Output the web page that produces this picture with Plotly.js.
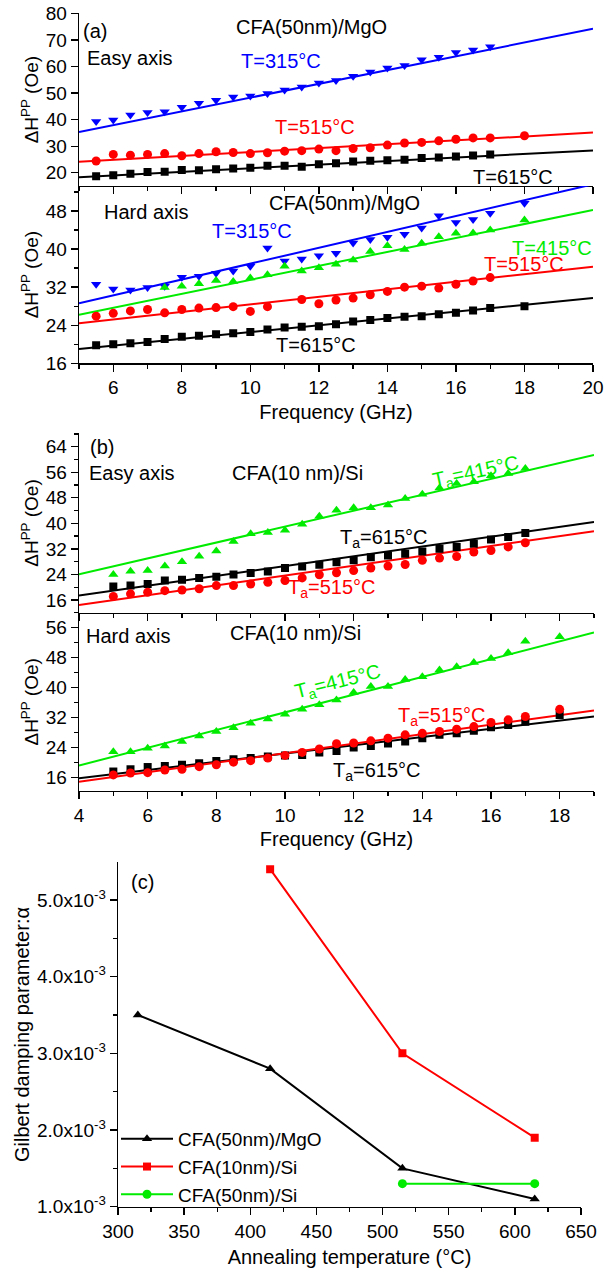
<!DOCTYPE html>
<html><head><meta charset="utf-8">
<script src="https://cdn.plot.ly/plotly-3.0.1.min.js"></script>
<style>body{margin:0;background:#fff}</style></head>
<body><div id="chart" style="width:608px;height:1268px"></div>
<script>
// ---------------- DATA ----------------
// Panel (a) CFA(50nm)/MgO, easy axis
const aEasyFreq315 = [5.5,6,6.5,7,7.5,8,8.5,9,9.5,10,10.5,11,11.5,12,12.5,13,13.5,14,14.5,15,15.5,16,16.5,17];
const aEasyDH315   = [39.3,39.8,41.7,42.7,42.9,44.6,46.1,47.3,48.5,48.9,49.8,51.1,52.3,53.8,54.7,56.3,57.9,59.4,60.4,62.5,63.5,65.2,66.2,67.4];
const aEasyFreq515 = [5.5,6,6.5,7,7.5,8,8.5,9,9.5,10,10.5,11,11.5,12,12.5,13,13.5,14,14.5,15,15.5,16,16.5,17,18];
const aEasyDH515   = [24.4,26.9,26.6,26.9,27.2,26.4,27.2,27.9,27.6,27.2,27.5,28.1,28.3,28.9,28.3,29.1,29.4,30.4,31.2,31.4,32.0,32.6,33.1,33.1,33.9];
const aEasyFreq615 = [5.5,6,6.5,7,7.5,8,8.5,9,9.5,10,10.5,11,11.5,12,12.5,13,13.5,14,14.5,15,15.5,16,16.5,17];
const aEasyDH615   = [18.7,19.0,19.6,20.3,20.4,21.0,20.9,21.3,21.6,21.9,22.6,22.6,22.2,23.2,23.6,24.2,24.5,24.7,24.9,25.5,25.7,26.1,26.5,26.9];
const aFitFreq     = [5, 20];
const aEasyFit315  = [35.3, 74.2];
const aEasyFit515  = [24.1, 35.1];
const aEasyFit615  = [18.3, 28.4];

// Panel (a) hard axis
const aHardFreq315 = [5.5,6,6.5,7,7.5,8,8.5,9,9.5,10,10.5,11,11.5,12,12.5,13,13.5,14,14.5,15,15.5,16,16.5,17,18];
const aHardDH315   = [32.6,31.6,31.4,31.9,32.2,34.1,34.3,34.9,35.4,36.4,40.2,37.5,37.9,38.6,39.1,41.3,42.0,42.5,43.1,44.4,47.0,45.6,46.2,47.5,49.6];
const aHardFreq415 = [7.5,8,8.5,9,9.5,10,10.5,11,11.5,12,12.5,13,13.5,14,14.5,15,15.5,16,16.5,17,18];
const aHardDH415   = [31.9,32.2,32.7,33.4,33.2,33.9,34.6,36.4,35.4,36.1,36.8,37.7,39.5,40.7,39.9,41.2,42.6,43.3,43.4,44.0,46.1];
const aHardFreq515 = [5.5,6,6.5,7,7.5,8,8.5,9,9.5,10,10.5,11.5,12,12.5,13,13.5,14,14.5,15,15.5,16,16.5,17];
const aHardDH515   = [25.9,26.5,27.0,27.3,26.6,27.3,27.6,27.7,27.9,26.9,27.9,29.4,28.5,29.3,29.7,30.4,31.1,32.0,32.2,31.8,32.6,33.3,34.0];
const aHardFreq615 = [5.5,6,6.5,7,7.5,8,8.5,9,9.5,10,10.5,11,11.5,12,12.5,13,13.5,14,14.5,15,15.5,16,16.5,17,18];
const aHardDH615   = [19.8,20.0,20.2,20.5,21.1,21.6,21.8,22.1,22.3,22.6,23.1,23.5,23.7,23.8,24.2,24.8,25.1,25.5,25.8,25.9,26.3,26.6,27.1,27.6,28.0];
const aHardFit315  = [28.6, 53.6];
const aHardFit415  = [26.2, 48.2];
const aHardFit515  = [24.4, 36.3];
const aHardFit615  = [19.0, 29.7];

// Panel (b) CFA(10 nm)/Si, easy axis
const bEasyFreq    = [5,5.5,6,6.5,7,7.5,8,8.5,9,9.5,10,10.5,11,11.5,12,12.5,13,13.5,14,14.5,15,15.5,16,16.5,17];
const bEasyDH415   = [24.0,25.0,25.2,26.6,28.0,29.7,31.3,34.3,36.7,37.1,37.8,39.7,42.2,44.1,44.9,44.9,45.7,47.8,49.1,51.1,52.5,53.0,54.9,55.6,57.2];
const bEasyDH615   = [20.2,20.5,21.0,22.1,22.3,22.9,23.3,24.0,24.4,24.9,26.0,26.5,27.0,27.8,28.4,29.4,29.9,30.5,31.2,32.0,32.6,33.6,34.9,35.7,37.0];
const bEasyDH515   = [17.1,17.9,18.4,18.9,19.1,19.5,20.5,20.5,21.0,21.5,22.1,22.9,23.9,24.5,25.2,26.0,26.6,27.1,28.4,29.1,29.6,31.0,31.5,32.6,33.9];
const bFitFreq     = [4, 19];
const bEasyFit415  = [24.0, 61.4];
const bEasyFit615  = [17.4, 40.4];
const bEasyFit515  = [14.4, 37.5];

// Panel (b) hard axis
const bHardFreq    = [5,5.5,6,6.5,7,7.5,8,8.5,9,9.5,10,10.5,11,11.5,12,12.5,13,13.5,14,14.5,15,15.5,16,16.5,17,18];
const bHardDH415   = [22.9,22.9,23.8,24.4,25.6,27.1,28.3,29.3,30.5,31.6,32.9,34.2,35.4,36.7,38.7,40.3,40.3,42.2,42.9,44.7,45.6,46.7,47.8,49.3,52.4,53.6];
const bHardDH615   = [17.6,18.2,18.8,19.1,19.4,19.8,20.4,20.9,21.2,21.6,21.9,22.0,22.7,23.1,24.0,24.4,25.1,25.6,26.5,27.4,27.8,28.5,29.4,30.0,30.9,32.7];
const bHardDH515   = [16.7,17.2,17.3,18.0,18.2,18.9,19.4,20.1,20.5,21.2,21.9,22.7,23.6,25.0,25.2,25.8,26.5,27.4,27.8,28.3,28.9,29.6,30.7,31.4,32.3,34.2];
const bHardFit415  = [19.2, 54.7];
const bHardFit615  = [15.8, 32.3];
const bHardFit515  = [14.9, 33.9];

// Panel (c) Gilbert damping vs annealing temperature
const annealMgO50 = [315, 415, 515, 615];
const alphaMgO50  = [3.5e-3, 2.8e-3, 1.5e-3, 1.1e-3];
const annealSi10  = [415, 515, 615];
const alphaSi10   = [5.4e-3, 3.0e-3, 1.9e-3];
const annealSi50  = [515, 615];
const alphaSi50   = [1.3e-3, 1.3e-3];
const alphaTickVals = [1e-3, 2e-3, 3e-3, 4e-3, 5e-3];
const alphaTickText = ['1.0x10<sup>-3</sup>','2.0x10<sup>-3</sup>','3.0x10<sup>-3</sup>','4.0x10<sup>-3</sup>','5.0x10<sup>-3</sup>'];

// ---------------- STYLE ----------------
const FONT = 'Arial, Liberation Sans, sans-serif';
const W = 608, H = 1268;
const BLUE = 'rgb(0,0,255)', RED = 'rgb(255,0,0)', GREEN = 'rgb(0,235,0)', BLACK = 'rgb(0,0,0)';
const xd = (l, r) => [l / W, r / W];
const yd = (t, b) => [1 - b / H, 1 - t / H];

const traces = [];
function pts(x, y, color, symbol, ax) {
  traces.push({x: x, y: y, type: 'scatter', mode: 'markers', xaxis: ax[0], yaxis: ax[1],
    marker: {color: color, symbol: symbol, size: symbol === 'square' ? 8 : 9},
    showlegend: false, hoverinfo: 'skip'});
}
function fit(x, y, color, ax) {
  traces.push({x: x, y: y, type: 'scatter', mode: 'lines', xaxis: ax[0], yaxis: ax[1],
    line: {color: color, width: 2}, showlegend: false, hoverinfo: 'skip'});
}

const A1 = ['x', 'y'], A2 = ['x2', 'y2'], B1 = ['x3', 'y3'], B2 = ['x4', 'y4'];

fit(aFitFreq, aEasyFit315, BLUE, A1);
fit(aFitFreq, aEasyFit515, RED, A1);
fit(aFitFreq, aEasyFit615, BLACK, A1);
pts(aEasyFreq315, aEasyDH315, BLUE, 'triangle-down', A1);
pts(aEasyFreq515, aEasyDH515, RED, 'circle', A1);
pts(aEasyFreq615, aEasyDH615, BLACK, 'square', A1);

fit(aFitFreq, aHardFit315, BLUE, A2);
fit(aFitFreq, aHardFit415, GREEN, A2);
fit(aFitFreq, aHardFit515, RED, A2);
fit(aFitFreq, aHardFit615, BLACK, A2);
pts(aHardFreq315, aHardDH315, BLUE, 'triangle-down', A2);
pts(aHardFreq415, aHardDH415, GREEN, 'triangle-up', A2);
pts(aHardFreq515, aHardDH515, RED, 'circle', A2);
pts(aHardFreq615, aHardDH615, BLACK, 'square', A2);

fit(bFitFreq, bEasyFit415, GREEN, B1);
fit(bFitFreq, bEasyFit615, BLACK, B1);
fit(bFitFreq, bEasyFit515, RED, B1);
pts(bEasyFreq, bEasyDH415, GREEN, 'triangle-up', B1);
pts(bEasyFreq, bEasyDH615, BLACK, 'square', B1);
pts(bEasyFreq, bEasyDH515, RED, 'circle', B1);

fit(bFitFreq, bHardFit415, GREEN, B2);
fit(bFitFreq, bHardFit615, BLACK, B2);
fit(bFitFreq, bHardFit515, RED, B2);
pts(bHardFreq, bHardDH415, GREEN, 'triangle-up', B2);
pts(bHardFreq, bHardDH615, BLACK, 'square', B2);
pts(bHardFreq, bHardDH515, RED, 'circle', B2);

traces.push({x: annealMgO50, y: alphaMgO50, type: 'scatter', mode: 'lines+markers', xaxis: 'x5', yaxis: 'y5',
  name: 'CFA(50nm)/MgO', line: {color: BLACK, width: 2}, marker: {symbol: 'triangle-up', size: 9, color: BLACK}});
traces.push({x: annealSi10, y: alphaSi10, type: 'scatter', mode: 'lines+markers', xaxis: 'x5', yaxis: 'y5',
  name: 'CFA(10nm)/Si', line: {color: RED, width: 2}, marker: {symbol: 'square', size: 8, color: RED}});
traces.push({x: annealSi50, y: alphaSi50, type: 'scatter', mode: 'lines+markers', xaxis: 'x5', yaxis: 'y5',
  name: 'CFA(50nm)/Si', line: {color: GREEN, width: 2}, marker: {symbol: 'circle', size: 9, color: GREEN}});

// ---------------- AXES ----------------
const tickFont = {family: FONT, size: 19, color: 'black'};
const common = {showline: true, linecolor: 'black', linewidth: 1.3, showgrid: false, zeroline: false,
  tickcolor: 'black', tickwidth: 1.3, tickfont: tickFont, fixedrange: true};

const layout = {
  width: W, height: H, margin: {l: 0, r: 0, t: 0, b: 0},
  paper_bgcolor: 'white', plot_bgcolor: 'white',
  font: {family: FONT, size: 19, color: 'black'},
  showlegend: true,
  legend: {x: 116 / W, y: 1 - 1120 / H, xanchor: 'left', yanchor: 'top', bgcolor: 'rgba(0,0,0,0)',
    font: {family: FONT, size: 19, color: 'black'}, tracegroupgap: 0, itemwidth: 52},
  annotations: []
};

function panel(i, xdom, ydom, xr, yr, xopt, yopt, showX, xtitle, ytitle, ytsize, xstand) {
  const xid = i === 1 ? '' : String(i);
  const ox = String(i + 5);
  const xmain = Object.assign({}, common, {domain: xdom, range: xr, anchor: 'y' + xid,
    ticks: 'outside', ticklen: 7, showticklabels: showX,
    minor: xopt.minor ? {dtick: xopt.minor, ticks: 'outside', ticklen: 4, tickcolor: 'black', tickwidth: 1.3} : undefined},
    xopt.t);
  if (xtitle) xmain.title = {text: xtitle, font: {family: FONT, size: 20, color: 'black'}, standoff: xstand || 8};
  const ymain = Object.assign({}, common, {domain: ydom, range: yr, anchor: 'x' + xid,
    ticks: 'outside', ticklen: 7,
    minor: yopt.minor ? {dtick: yopt.minor, ticks: 'outside', ticklen: 4, tickcolor: 'black', tickwidth: 1.3} : undefined},
    yopt.t);
  if (ytitle) ymain.title = {text: ytitle, font: {family: FONT, size: ytsize || 19, color: 'black'}, standoff: 2};
  const xover = Object.assign({}, common, {overlaying: 'x' + xid, anchor: 'y' + xid, side: 'top', range: xr,
    ticks: 'inside', ticklen: 6, showticklabels: false,
    minor: xopt.minor ? {dtick: xopt.minor, ticks: 'inside', ticklen: 3, tickcolor: 'black', tickwidth: 1.3} : undefined},
    xopt.t);
  const yover = Object.assign({}, common, {overlaying: 'y' + xid, anchor: 'x' + xid, side: 'right', range: yr,
    ticks: 'inside', ticklen: 6, showticklabels: false,
    minor: yopt.minor ? {dtick: yopt.minor, ticks: 'inside', ticklen: 3, tickcolor: 'black', tickwidth: 1.3} : undefined},
    yopt.t);
  layout['xaxis' + xid] = xmain;
  layout['yaxis' + xid] = ymain;
  layout['xaxis' + ox] = xover;
  layout['yaxis' + ox] = yover;
}

const dhTitle = '\u0394H<sup>PP</sup> (Oe)';
panel(1, xd(79, 593), yd(13.3, 186), [5, 20], [15, 80],
  {t: {dtick: 2, tick0: 0}, minor: 1}, {t: {dtick: 10, tick0: 0}}, false, null, dhTitle, 19);
panel(2, xd(79, 593), yd(186, 363.3), [5, 20], [16, 53.25],
  {t: {dtick: 2, tick0: 0}, minor: 1}, {t: {dtick: 8, tick0: 0}, minor: 4}, true, 'Frequency (GHz)', dhTitle, 19, 7);
panel(3, xd(79, 594), yd(433.3, 612.7), [4, 19], [12, 68.2],
  {t: {dtick: 2, tick0: 0}, minor: 1}, {t: {dtick: 8, tick0: 0}, minor: 4}, false, null, dhTitle, 19);
panel(4, xd(79, 594), yd(612.7, 791), [4, 19], [12.4, 60],
  {t: {dtick: 2, tick0: 0}, minor: 1}, {t: {dtick: 8, tick0: 0}, minor: 4}, true, 'Frequency (GHz)', dhTitle, 19, 7);
panel(5, xd(118, 581), yd(862.3, 1206.7), [300, 650], [1.0e-3, 5.49e-3],
  {t: {dtick: 50, tick0: 0}, minor: 25},
  {t: {tickmode: 'array', tickvals: alphaTickVals, ticktext: alphaTickText}, minor: 0.5e-3},
  true, 'Annealing temperature (\u00b0C)', 'Gilbert damping parameter:\u03b1', 20, 14);

// ---------------- ANNOTATIONS ----------------
function ann(text, xpx, ypx, color, align, angle, size) {
  layout.annotations.push({text: text, xref: 'paper', yref: 'paper', x: xpx / W, y: 1 - ypx / H,
    xanchor: align || 'center', yanchor: 'middle', showarrow: false, textangle: angle || 0,
    font: {family: FONT, size: size || 20, color: color}});
}
ann('(a)', 81, 31, BLACK, 'left');
ann('CFA(50nm)/MgO', 311, 27, BLACK);
ann('Easy axis', 85, 58, BLACK, 'left');
ann('T=315\u00b0C', 281, 61, BLUE);
ann('T=515\u00b0C', 315, 127, RED);
ann('T=615\u00b0C', 513, 177, BLACK);

ann('Hard axis', 102, 212, BLACK, 'left');
ann('CFA(50nm)/MgO', 344, 203, BLACK);
ann('T=315\u00b0C', 252, 231, BLUE);
ann('T=415\u00b0C', 552, 248, GREEN);
ann('T=515\u00b0C', 524, 264, RED);
ann('T=615\u00b0C', 316, 345, BLACK);

ann('(b)', 88, 447, BLACK, 'left');
ann('Easy axis', 87, 473, BLACK, 'left');
ann('CFA(10 nm)/Si', 297, 473, BLACK);
ann('T<sub>a</sub>=415\u00b0C', 476, 472, GREEN, 'center', -12);
ann('T<sub>a</sub>=615\u00b0C', 384, 538, BLACK);
ann('T<sub>a</sub>=515\u00b0C', 332, 588, RED);

ann('Hard axis', 84, 636, BLACK, 'left');
ann('CFA(10 nm)/Si', 295, 633, BLACK);
ann('T<sub>a</sub>=415\u00b0C', 338, 682, GREEN, 'center', -14);
ann('T<sub>a</sub>=515\u00b0C', 442, 716, RED);
ann('T<sub>a</sub>=615\u00b0C', 377, 771, BLACK);

ann('(c)', 142, 882, BLACK);

Plotly.newPlot('chart', traces, layout, {staticPlot: true, displayModeBar: false});
</script>
</body></html>
